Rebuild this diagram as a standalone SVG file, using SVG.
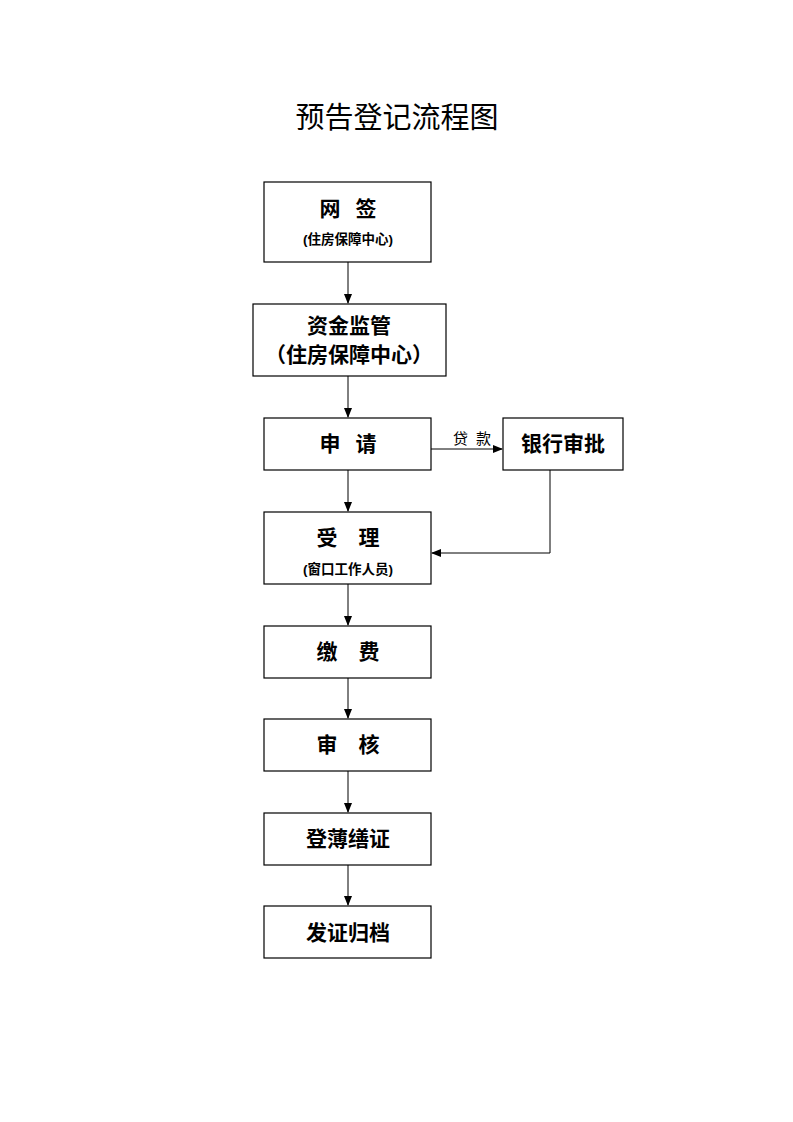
<svg xmlns="http://www.w3.org/2000/svg" width="793" height="1122" viewBox="0 0 793 1122">
<defs>
<marker id="ah" markerWidth="10" markerHeight="8" refX="9" refY="4" orient="auto" markerUnits="userSpaceOnUse">
<path d="M0,0 L10,4 L0,8 Z" fill="#000"/>
</marker>
<style>
.box{fill:#fff;stroke:#000;stroke-width:1.2}
.t{font-family:"Liberation Sans","Noto Sans CJK SC",sans-serif;font-weight:bold;fill:#000;text-anchor:middle}
.big{font-size:21px}
.sp{word-spacing:9px}
.small{font-size:13.5px}
.lbl{font-size:15px;font-weight:normal;word-spacing:4px}
.title{font-family:"Liberation Sans","Noto Sans CJK SC",sans-serif;font-size:29px;fill:#000;text-anchor:middle}
.c{fill:none;stroke:#000;stroke-width:1}
</style>
</defs>
<rect width="793" height="1122" fill="#fff"/>
<text class="title" x="397" y="128">预告登记流程图</text>
<g id="connectors">
<line class="c" x1="348" y1="262" x2="348" y2="303" marker-end="url(#ah)"/>
<line class="c" x1="348" y1="376" x2="348" y2="417" marker-end="url(#ah)"/>
<line class="c" x1="348" y1="470" x2="348" y2="511" marker-end="url(#ah)"/>
<line class="c" x1="348" y1="584" x2="348" y2="625" marker-end="url(#ah)"/>
<line class="c" x1="348" y1="678" x2="348" y2="718" marker-end="url(#ah)"/>
<line class="c" x1="348" y1="771" x2="348" y2="812" marker-end="url(#ah)"/>
<line class="c" x1="348" y1="865" x2="348" y2="905" marker-end="url(#ah)"/>
<line class="c" x1="431" y1="449" x2="502" y2="449" marker-end="url(#ah)"/>
<polyline class="c" points="550,470 550,553 432,553" marker-end="url(#ah)"/>
<text class="t lbl" x="472" y="444">贷 款</text>
</g>
<g id="n1"><rect class="box" x="264" y="182" width="167" height="80"/>
<text class="t big sp" x="348" y="216">网 签</text>
<text class="t small" x="348" y="244">(住房保障中心)</text></g>
<g id="n2"><rect class="box" x="253" y="304" width="193" height="72"/>
<text class="t big" x="349" y="333">资金监管</text>
<text class="t big" x="349" y="362">（住房保障中心）</text></g>
<g id="n3"><rect class="box" x="264" y="418" width="167" height="52"/>
<text class="t big sp" x="348" y="451">申 请</text></g>
<g id="n4"><rect class="box" x="503" y="418" width="120" height="52"/>
<text class="t big" x="563" y="451">银行审批</text></g>
<g id="n5"><rect class="box" x="264" y="512" width="167" height="72"/>
<text class="t big" x="348" y="545">受　理</text>
<text class="t small" x="348" y="574">(窗口工作人员)</text></g>
<g id="n6"><rect class="box" x="264" y="626" width="167" height="52"/>
<text class="t big" x="348" y="659">缴　费</text></g>
<g id="n7"><rect class="box" x="264" y="719" width="167" height="52"/>
<text class="t big" x="348" y="752">审　核</text></g>
<g id="n8"><rect class="box" x="264" y="813" width="167" height="52"/>
<text class="t big" x="348" y="846">登薄缮证</text></g>
<g id="n9"><rect class="box" x="264" y="906" width="167" height="52"/>
<text class="t big" x="348" y="940">发证归档</text></g>
</svg>
